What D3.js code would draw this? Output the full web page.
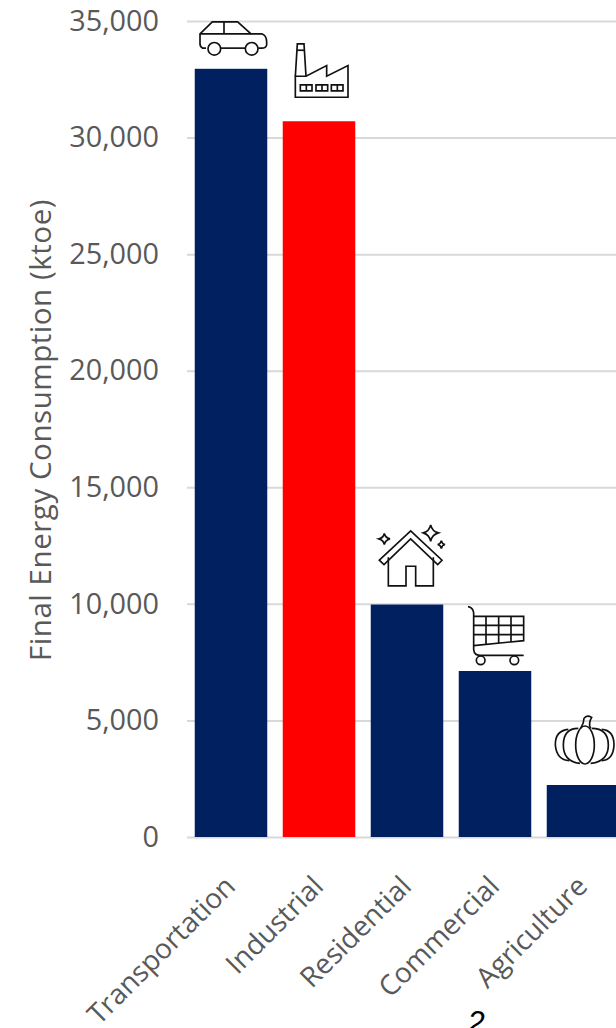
<!DOCTYPE html>
<html>
<head>
<meta charset="utf-8">
<script src="https://cdn.jsdelivr.net/npm/d3@7"></script>
<style>
html, body { margin: 0; padding: 0; background: #fff; overflow: hidden; }
svg { display: block; }
</style>
</head>
<body>
<script>
// Final energy consumption by sector, in ktoe
const categories = ["Transportation", "Industrial", "Residential", "Commercial", "Agriculture"];
const values = [32950, 30700, 9970, 7120, 2230];
const barColors = ["#002060", "#ff0000", "#002060", "#002060", "#002060"];
const yTicks = [0, 5000, 10000, 15000, 20000, 25000, 30000, 35000];
const yTitle = "Final Energy Consumption (ktoe)";
const pageNumber = "2";

// Outline icons, in a 3x local grid whose origin is the centre of the bar top
const sectorIcons = {
  Transportation: { dx: -153, dy: -205, paths: [
    "M78,143H68Q60,140 60,130V100L97,64H173L213,100H245Q260,105 260,125V133Q258,143 245,143H235",
    "M122,143H196", "M132,64V100", "M60,100H213",
    "M122,145a19,19 0 1,1 -38,0a19,19 0 1,1 38,0",
    "M234,145a19,19 0 1,1 -38,0a19,19 0 1,1 38,0"] },
  Industrial: { dx: -418, dy: -363, paths: [
    "M347,228H379L441,196V228L505,196V291H347Z",
    "M347,228L353,131H373L379,228", "M352,150H374",
    "M362,254H397V272H362Z", "M380,254V272",
    "M409,254H444V272H409Z", "M427,254V272",
    "M455,254H490V272H455Z", "M473,254V272"] },
  Residential: { dx: -141, dy: -285, paths: [
    "M58,152L152,64L246,152L233,165L152,88L72,165Z",
    "M85,143V229H138V170H167V229H220V143",
    "M73,72Q76,85 90,88Q76,92 73,105Q70,92 57,88Q70,85 73,72Z",
    "M212,46Q216,65 235,70Q216,76 212,95Q208,76 190,70Q208,65 212,46Z",
    "M244,93Q246,103 255,105Q246,107 244,117Q242,107 233,105Q242,103 244,93Z"] },
  Commercial: { dx: -406, dy: -484, paths: [
    "M325,291Q340,293 342,310V420Q344,437 360,437H492",
    "M342,320H492V393L342,408",
    "M342,347H492", "M342,375H492",
    "M379,320V405", "M417,320V401", "M454,320V397",
    "M376,452a13,13 0 1,1 -26,0a13,13 0 1,1 26,0",
    "M477,452a13,13 0 1,1 -26,0a13,13 0 1,1 26,0"] },
  Agriculture: { dx: -669, dy: -825, paths: [
    "M703,705a28,57 0 1,1 -56,0a28,57 0 1,1 56,0",
    "M662,655Q672,640 672,625Q680,613 695,622Q684,640 692,655",
    "M655,655Q610,655 610,705Q610,755 660,760",
    "M625,658Q585,662 586,705Q590,750 628,752",
    "M695,655Q745,655 745,705Q745,755 692,760",
    "M725,658Q762,660 762,705Q760,750 725,752"] }
};

const width = 616, height = 1028;
const font = "'Open Sans', sans-serif";
const ink = "#595959", gridColor = "#d9d9d9";

const svg = d3.select("body").append("svg")
  .attr("width", width).attr("height", height);

const x = d3.scaleBand().domain(categories).range([187, 627])
  .paddingInner(0.176).paddingOuter(0.088);
const y = d3.scaleLinear().domain([0, 35000]).range([837, 21]);

// Value axis: labels on the left, light gridlines running across the plot
const yAxis = svg.append("g").attr("transform", "translate(187,0)")
  .call(d3.axisLeft(y).tickValues(yTicks).tickFormat(d3.format(",")).tickSize(-(627 - 187)).tickPadding(28));
yAxis.select(".domain").remove();
yAxis.selectAll("line").attr("stroke", gridColor).attr("stroke-width", 2);
yAxis.selectAll("text").attr("fill", ink).attr("font-family", font).attr("font-size", 28.8);

svg.append("text")
  .attr("transform", "translate(51,430) rotate(-90)")
  .attr("text-anchor", "middle")
  .attr("fill", ink).attr("font-family", font).attr("font-size", 29.5)
  .attr("letter-spacing", 0.55)
  .text(yTitle);

// Bars
svg.append("g").selectAll("rect").data(categories).join("rect")
  .attr("x", d => x(d))
  .attr("y", (d, i) => y(values[i]))
  .attr("width", x.bandwidth())
  .attr("height", (d, i) => y(0) - y(values[i]))
  .attr("fill", (d, i) => barColors[i]);

// Sector icons sit just above each bar
svg.append("g").selectAll("g").data(categories).join("g")
  .attr("transform", (d, i) => {
    const ic = sectorIcons[d];
    return `translate(${x(d) + x.bandwidth() / 2},${y(values[i])}) scale(${1 / 3}) translate(${ic.dx},${ic.dy})`;
  })
  .selectAll("path").data(d => sectorIcons[d].paths).join("path")
  .attr("d", d => d)
  .attr("fill", "none").attr("stroke", "#111").attr("stroke-width", 5);

// Category axis with slanted labels
const xAxis = svg.append("g").attr("transform", "translate(0,837)")
  .call(d3.axisBottom(x).tickSize(0));
xAxis.select(".domain").remove();
xAxis.selectAll("text")
  .attr("fill", ink).attr("font-family", font).attr("font-size", 28)
  .attr("text-anchor", "end")
  .attr("dy", null).attr("y", null)
  .attr("transform", "translate(6,51) rotate(-45)");

// Page number, cut by the lower edge
svg.append("text")
  .attr("x", 476).attr("y", 1033)
  .attr("text-anchor", "middle")
  .attr("fill", "#000").attr("font-family", "'Liberation Sans', sans-serif")
  .attr("font-style", "italic").attr("font-size", 31)
  .text(pageNumber);
</script>
</body>
</html>
